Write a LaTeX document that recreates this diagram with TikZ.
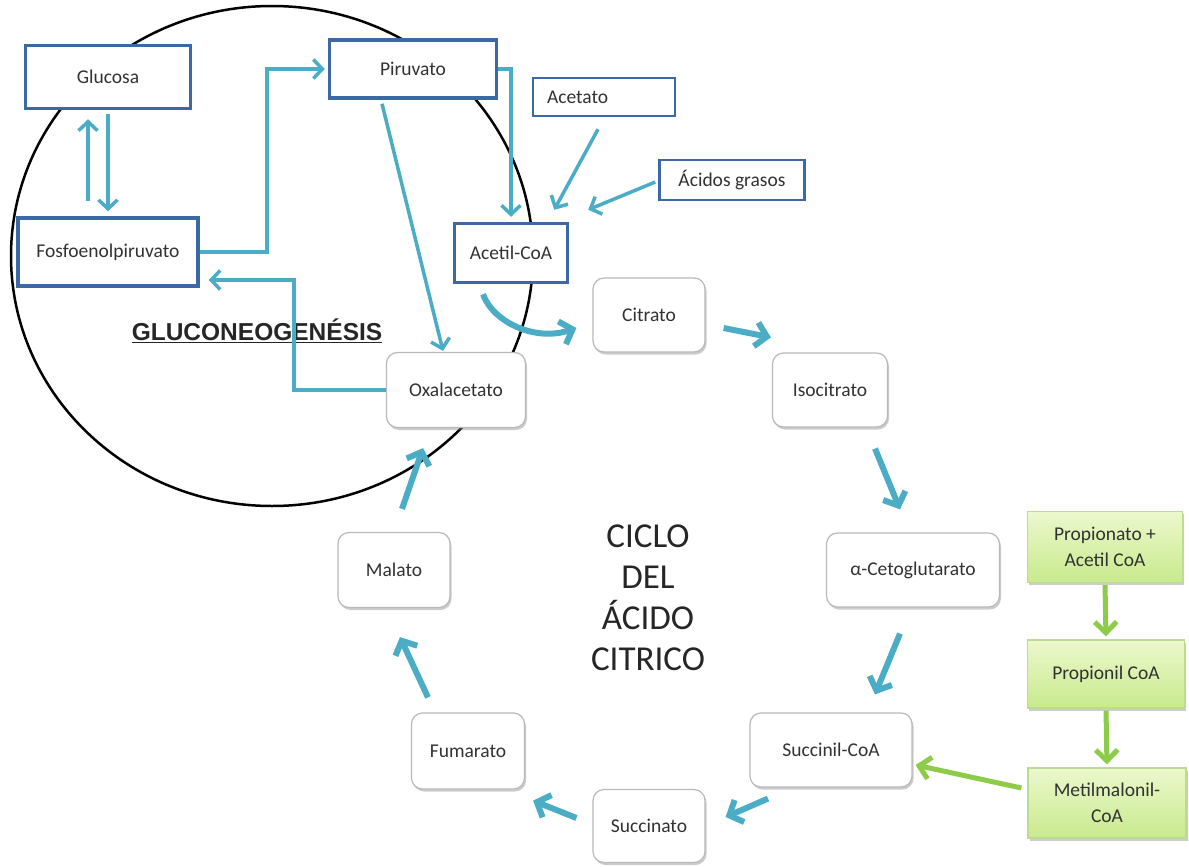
\documentclass[tikz,border=0pt]{standalone}
\usepackage{fontspec}
\setmainfont{Carlito}
\newfontfamily\arialfont{Liberation Sans}
\usetikzlibrary{arrows.meta,calc,shadows}
\definecolor{tealA}{RGB}{75,172,198}
\definecolor{boxblue}{RGB}{60,105,165}
\definecolor{txt}{RGB}{50,50,50}
\definecolor{greenA}{RGB}{140,204,72}
\definecolor{gfillT}{RGB}{236,248,205}
\definecolor{gfillB}{RGB}{200,234,140}
\definecolor{gborder}{RGB}{185,220,145}
\tikzset{
  bluebox/.style={draw=boxblue, line width=3.5pt, fill=white, inner sep=0pt,
    font=\fontsize{19.5}{22}\selectfont, text=txt},
  lightblue/.style={bluebox, line width=2.5pt},
  cycbox/.style={draw=gray!55, line width=1.2pt, rounded corners=11pt, fill=white,
    inner sep=0pt, font=\fontsize{19.5}{22}\selectfont, text=txt,
    drop shadow={shadow xshift=1.5pt, shadow yshift=-2.5pt, opacity=0.4, fill=gray}},
  grnbox/.style={draw=gborder, line width=1.2pt, top color=gfillT, bottom color=gfillB,
    inner sep=0pt, align=center, font=\fontsize{19.5}{26}\selectfont, text=txt,
    drop shadow={shadow xshift=1.5pt, shadow yshift=-2.5pt, opacity=0.4, fill=gray}},
  thinarr/.style={draw=tealA, line width=3.5pt, -{Straight Barb[length=9pt,width=19pt]}},
  cycarr/.style={draw=tealA, line width=6pt, -{Straight Barb[length=11pt,width=24pt]}},
  grnarr/.style={draw=greenA, line width=5pt, -{Straight Barb[length=11pt,width=22pt]}},
}
\begin{document}
\begin{tikzpicture}[x=1pt,y=-1pt]
\fill[white] (0,0) rectangle (1189,867);
\useasboundingbox (0,0) rectangle (1189,867);

% gluconeogenesis circle
\draw[black, line width=2.5pt] (272,256) ellipse [x radius=261, y radius=250];

% blue boxes
\node[bluebox, minimum width=165pt, minimum height=63pt] (glucosa) at (108,77) {Glucosa};
\node[bluebox, minimum width=180pt, minimum height=68pt] (fosfo) at (108,252) {Fosfoenolpiruvato};
\node[bluebox, minimum width=167pt, minimum height=58pt] (piruvato) at (413,69) {Piruvato};
\node[lightblue, text width=114pt, inner xsep=14pt, align=left, minimum height=38pt] (acetato) at (604,97) {Acetato};
\node[lightblue, minimum width=145pt, minimum height=40pt] (acidos) at (732,180) {Ácidos grasos};
\node[bluebox, minimum width=113pt, minimum height=59pt] (acetil) at (511,253) {Acetil-CoA};

% cycle boxes
\node[cycbox, minimum width=112pt, minimum height=74pt] (citrato) at (649,315) {Citrato};
\node[cycbox, minimum width=115pt, minimum height=74pt] (isocitrato) at (830,390) {Isocitrato};
\node[cycbox, minimum width=173pt, minimum height=74pt] (aceto) at (913,570) {α-Cetoglutarato};
\node[cycbox, minimum width=162pt, minimum height=74pt] (succinil) at (831,750) {Succinil-CoA};
\node[cycbox, minimum width=112pt, minimum height=73pt] (succinato) at (649,826) {Succinato};
\node[cycbox, minimum width=113pt, minimum height=76pt] (fumarato) at (468,751) {Fumarato};
\node[cycbox, minimum width=112pt, minimum height=75pt] (malato) at (394,570) {Malato};
\node[cycbox, minimum width=139pt, minimum height=75pt] (oxal) at (456,390) {Oxalacetato};

% green boxes
\node[grnbox, minimum width=155pt, minimum height=71pt] (propionato) at (1105,547) {Propionato +\\Acetil CoA};
\node[grnbox, minimum width=157pt, minimum height=68pt] (propionil) at (1106,674) {Propionil CoA};
\node[grnbox, minimum width=158pt, minimum height=70pt] (metil) at (1107,803) {Metilmalonil-\\CoA};

% titles
\node[font=\arialfont\bfseries\fontsize{24.5}{27}\selectfont, text=black!85] (gluco) at (257,331) {\underline{GLUCONEOGENÉSIS}};
\node[align=center, font=\fontsize{35}{41}\selectfont, text=black!85] (ciclo) at (648,598) {CICLO\\DEL\\ÁCIDO\\CITRICO};

% thin arrows (gluconeogenesis)
\draw[thinarr, shorten <=4pt, shorten >=5pt] (glucosa.south) -- (fosfo.north);
\draw[thinarr] ($(fosfo.north)+(-20,-15)$) -- ($(glucosa.south)+(-20,9)$);
\draw[thinarr, shorten >=3pt] (fosfo.east) -- ++(67,0) |- (piruvato.west);
\draw[thinarr, shorten >=9pt] (oxal.west) -- ++(-92,0) |- ($(fosfo.east)+(0,28)$);
\draw[thinarr, shorten >=5pt] (piruvato.east) -| (acetil.north);
\draw[thinarr] ($(piruvato.south)+(-31,4)$) -- ($(oxal.north)+(-13,-1)$);
\draw[thinarr] ($(acetato.south)+(-6,12)$) -- ($(acetil.north east)+(-15,-12)$);
\draw[thinarr] ($(acidos.west)+(-3,2)$) -- ($(acetil.north east)+(19,-12)$);

% Acetil-CoA -> Citrato
\draw[cycarr] ($(acetil.south)+(-28,10)$) .. controls (493,322) and (535,342) .. ($(citrato.west)+(-16,13)$);

% cycle arrows
\draw[cycarr] ($(citrato.east)+(18,13)$) -- ($(isocitrato.north west)+(-1,-15)$);
\draw[cycarr] ($(isocitrato.south)+(45,21)$) -- ($(aceto.north)+(-13,-23)$);
\draw[cycarr] ($(aceto.south)+(-13,26)$) -- ($(succinil.north)+(44,-18)$);
\draw[cycarr] ($(succinil.south)+(-63,11)$) -- ($(succinato.east)+(20,-9)$);
\draw[cycarr] ($(succinato.west)+(-16,-8)$) -- ($(fumarato.south east)+(8,11)$);
\draw[cycarr] ($(fumarato.north)+(-40,-15)$) -- ($(malato.south)+(6,29)$);
\draw[cycarr] ($(malato.north)+(8,-23)$) -- ($(oxal.south)+(-33,20)$);

% green arrows
\draw[grnarr, shorten <=2pt, shorten >=3pt] (propionato.south) -- (propionil.north);
\draw[grnarr, shorten <=2pt, shorten >=3pt] (propionil.south) -- (metil.north);
\draw[grnarr] ($(metil.west)+(-6,-15)$) -- ($(succinil.east)+(3,15)$);
\end{tikzpicture}
\end{document}
